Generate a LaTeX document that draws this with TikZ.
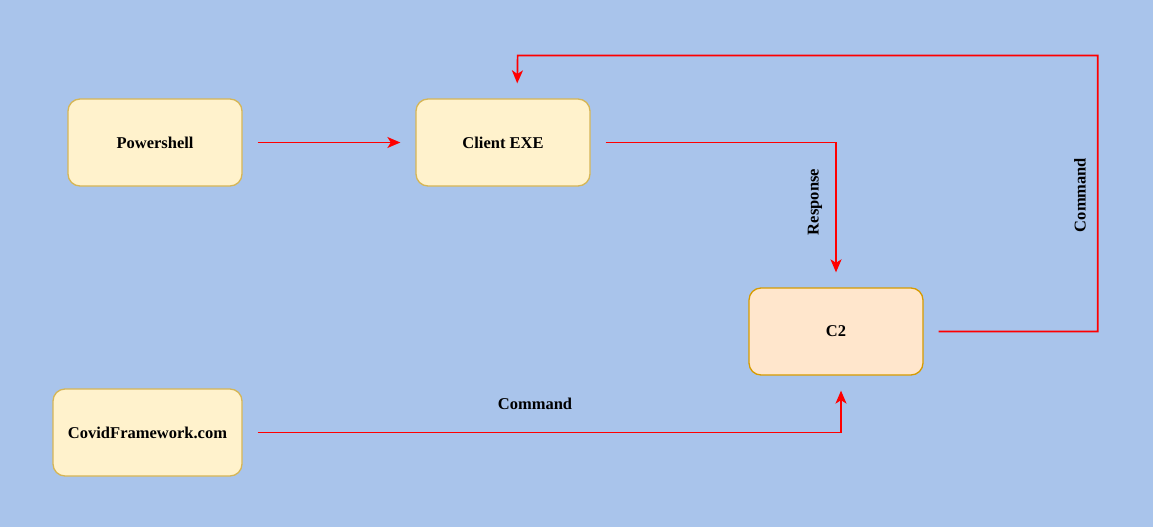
\documentclass[tikz,border=0pt]{standalone}
\usepackage{fontspec}
\setmainfont{Liberation Serif}
\usetikzlibrary{arrows.meta}
\definecolor{bgblue}{HTML}{A9C4EB}
\definecolor{yfill}{HTML}{FFF2CC}
\definecolor{ydraw}{HTML}{D6B656}
\definecolor{ofill}{HTML}{FFE6CC}
\definecolor{odraw}{HTML}{D79B00}
\definecolor{linkred}{HTML}{FF0000}
\tikzset{
  box/.style={draw=ydraw, fill=yfill, line width=1.3pt, rounded corners=12pt,
    minimum width=174pt, minimum height=87pt, inner sep=0pt,
    font=\fontsize{16.5}{19}\selectfont\bfseries},
  obox/.style={box, draw=odraw, fill=ofill},
  link/.style={draw=linkred, line width=1.7pt,
    -{Stealth[length=13pt,width=11pt,inset=3.5pt]},
    shorten <=15pt, shorten >=15pt},
  lbl/.style={font=\fontsize{16.5}{19}\selectfont\bfseries, inner sep=0pt}
}
\begin{document}
\begin{tikzpicture}[x=1pt,y=-1pt]
\fill[bgblue] (0,0) rectangle (1153,527);
\useasboundingbox (0,0) rectangle (1153,527);
\node[box] (ps) at (155,142.5) {Powershell};
\node[box] (ce) at (503,142.5) {Client EXE};
\node[obox] (c2) at (836,331.5) {C2};
\node[box, minimum width=189pt] (cf) at (147.5,432.5) {CovidFramework.com};
\draw[link] (ps.east) -- (ce.west);
\draw[link] (ce.east) -| (c2.north);
\draw[link] (c2.east) -- ++(174,0) |- ++(-580,-276) -- ([xshift=14pt]ce.north);
\draw[link] (cf.east) -| ([xshift=5pt]c2.south);
\node[lbl, rotate=90] (rl) at (815,202) {Response};
\node[lbl, rotate=90] (cl1) at (1080,195) {Command};
\node[lbl] (cl2) at (535,404) {Command};
\end{tikzpicture}
\end{document}
